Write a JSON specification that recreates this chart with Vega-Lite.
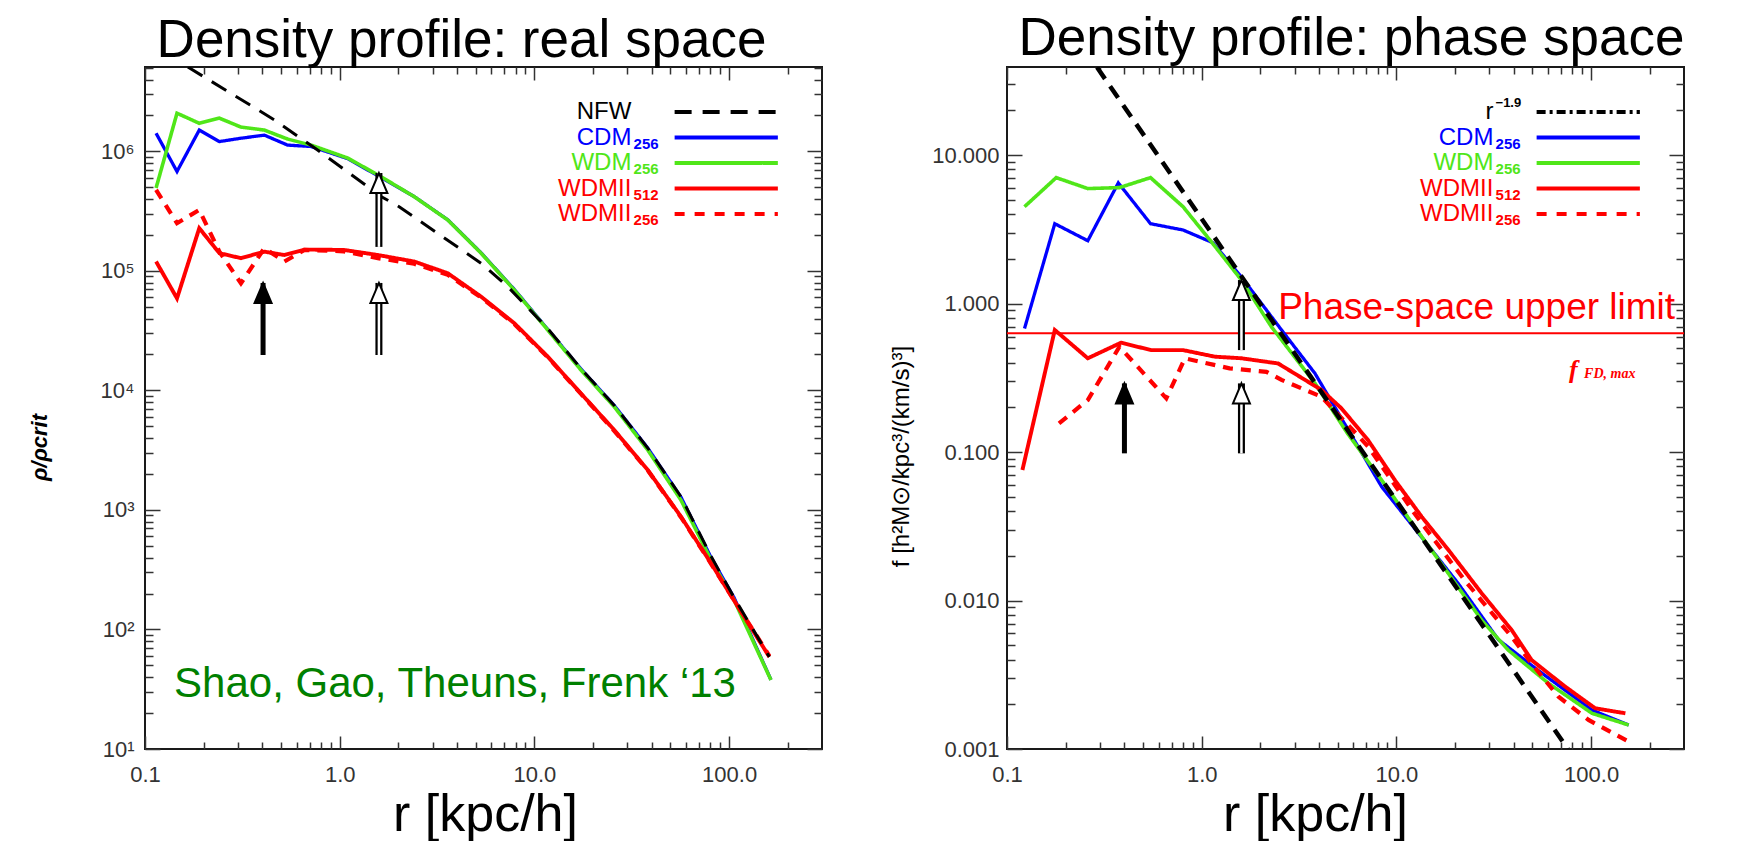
{
  "$schema": "https://vega.github.io/schema/vega-lite/v6.json",
  "background": "white",
  "padding": {"left": 27, "top": 12, "right": 5, "bottom": 0},
  "spacing": 185,
  "bounds": "flush",
  "config": {
    "font": "Liberation Sans",
    "view": {"stroke": "#1a1a1a", "strokeWidth": 2},
    "axis": {"grid": false, "domain": false, "tickColor": "#333333", "tickWidth": 1.5, "labelColor": "#333333", "labelFontSize": 22, "labelFont": "Liberation Sans", "titleFont": "Liberation Sans", "titleColor": "black", "titleFontWeight": "normal", "labelOverlap": false, "labelFlush": false, "labelBound": false}
  },
  "datasets": {
    "realCurves": [
      {"series":"CDM256","r":0.114,"v":1420000},{"series":"CDM256","r":0.146,"v":680000},{"series":"CDM256","r":0.19,"v":1510000},{"series":"CDM256","r":0.241,"v":1210000},{"series":"CDM256","r":0.311,"v":1290000},{"series":"CDM256","r":0.41,"v":1370000},{"series":"CDM256","r":0.54,"v":1130000},{"series":"CDM256","r":0.713,"v":1100000},{"series":"CDM256","r":1.1,"v":870000},{"series":"CDM256","r":1.63,"v":605000},{"series":"CDM256","r":2.41,"v":420000},{"series":"CDM256","r":3.59,"v":268000},{"series":"CDM256","r":5.32,"v":142000},{"series":"CDM256","r":7.89,"v":70000},{"series":"CDM256","r":11.7,"v":32500},{"series":"CDM256","r":17.3,"v":15200},{"series":"CDM256","r":25.7,"v":7500},{"series":"CDM256","r":38.2,"v":3300},{"series":"CDM256","r":56.6,"v":1280},{"series":"CDM256","r":80.8,"v":400},{"series":"CDM256","r":106,"v":185},{"series":"CDM256","r":164,"v":38},
      {"series":"WDM256","r":0.114,"v":495000},{"series":"WDM256","r":0.146,"v":2090000},{"series":"WDM256","r":0.19,"v":1720000},{"series":"WDM256","r":0.241,"v":1900000},{"series":"WDM256","r":0.311,"v":1600000},{"series":"WDM256","r":0.41,"v":1510000},{"series":"WDM256","r":0.54,"v":1270000},{"series":"WDM256","r":0.713,"v":1130000},{"series":"WDM256","r":1.1,"v":880000},{"series":"WDM256","r":1.63,"v":615000},{"series":"WDM256","r":2.41,"v":419000},{"series":"WDM256","r":3.59,"v":267000},{"series":"WDM256","r":5.32,"v":141000},{"series":"WDM256","r":7.89,"v":69300},{"series":"WDM256","r":11.7,"v":32100},{"series":"WDM256","r":17.3,"v":14900},{"series":"WDM256","r":25.7,"v":7310},{"series":"WDM256","r":38.2,"v":3180},{"series":"WDM256","r":56.6,"v":1210},{"series":"WDM256","r":80.8,"v":382},{"series":"WDM256","r":106,"v":177},{"series":"WDM256","r":164,"v":37.8},
      {"series":"WDMII512","r":0.114,"v":120000},{"series":"WDMII512","r":0.146,"v":59000},{"series":"WDMII512","r":0.19,"v":228000},{"series":"WDMII512","r":0.241,"v":141000},{"series":"WDMII512","r":0.311,"v":128000},{"series":"WDMII512","r":0.41,"v":145000},{"series":"WDMII512","r":0.52,"v":136000},{"series":"WDMII512","r":0.66,"v":151000},{"series":"WDMII512","r":1.05,"v":150000},{"series":"WDMII512","r":1.57,"v":136000},{"series":"WDMII512","r":2.41,"v":120000},{"series":"WDMII512","r":3.59,"v":95700},{"series":"WDMII512","r":5.32,"v":61000},{"series":"WDMII512","r":7.89,"v":36500},{"series":"WDMII512","r":11.7,"v":19200},{"series":"WDMII512","r":17.3,"v":9480},{"series":"WDMII512","r":25.7,"v":4670},{"series":"WDMII512","r":38.2,"v":2160},{"series":"WDMII512","r":56.6,"v":879},{"series":"WDMII512","r":80.8,"v":358},{"series":"WDMII512","r":106,"v":175},{"series":"WDMII512","r":161,"v":59},
      {"series":"WDMII256","r":0.114,"v":476000},{"series":"WDMII256","r":0.146,"v":251000},{"series":"WDMII256","r":0.19,"v":324000},{"series":"WDMII256","r":0.241,"v":145000},{"series":"WDMII256","r":0.311,"v":78900},{"series":"WDMII256","r":0.41,"v":155000},{"series":"WDMII256","r":0.52,"v":120000},{"series":"WDMII256","r":0.66,"v":150000},{"series":"WDMII256","r":1.05,"v":146000},{"series":"WDMII256","r":1.57,"v":128000},{"series":"WDMII256","r":2.41,"v":115000},{"series":"WDMII256","r":3.59,"v":93000},{"series":"WDMII256","r":5.32,"v":60000},{"series":"WDMII256","r":7.89,"v":36000},{"series":"WDMII256","r":11.7,"v":19000},{"series":"WDMII256","r":17.3,"v":9400},{"series":"WDMII256","r":25.7,"v":4600},{"series":"WDMII256","r":38.2,"v":2150},{"series":"WDMII256","r":56.6,"v":870},{"series":"WDMII256","r":80.8,"v":355},{"series":"WDMII256","r":106,"v":176},{"series":"WDMII256","r":161,"v":60},
      {"series":"NFW","r":0.166,"v":5090000},{"series":"NFW","r":0.461,"v":1840000},{"series":"NFW","r":0.77,"v":1030000},{"series":"NFW","r":1.63,"v":420000},{"series":"NFW","r":2.02,"v":345000},{"series":"NFW","r":5.32,"v":116000},{"series":"NFW","r":7.3,"v":74000},{"series":"NFW","r":11.7,"v":33000},{"series":"NFW","r":17.3,"v":15300},{"series":"NFW","r":25.7,"v":7500},{"series":"NFW","r":38.2,"v":3300},{"series":"NFW","r":56.6,"v":1290},{"series":"NFW","r":80.8,"v":410},{"series":"NFW","r":106,"v":185},{"series":"NFW","r":161,"v":59}
    ],
    "phaseCurves": [
      {"series":"CDM256","r":0.123,"v":0.679},{"series":"CDM256","r":0.176,"v":3.45},{"series":"CDM256","r":0.26,"v":2.65},{"series":"CDM256","r":0.373,"v":6.5},{"series":"CDM256","r":0.546,"v":3.45},{"series":"CDM256","r":0.802,"v":3.13},{"series":"CDM256","r":1.14,"v":2.57},{"series":"CDM256","r":1.6,"v":1.51},{"series":"CDM256","r":2.57,"v":0.664},{"series":"CDM256","r":3.82,"v":0.338},{"series":"CDM256","r":8.4,"v":0.0584},{"series":"CDM256","r":20.8,"v":0.013},{"series":"CDM256","r":33.4,"v":0.00545},{"series":"CDM256","r":53.4,"v":0.00339},{"series":"CDM256","r":101,"v":0.00183},{"series":"CDM256","r":156,"v":0.00145},
      {"series":"WDM256","r":0.123,"v":4.49},{"series":"WDM256","r":0.179,"v":7.05},{"series":"WDM256","r":0.26,"v":5.95},{"series":"WDM256","r":0.378,"v":6.04},{"series":"WDM256","r":0.546,"v":7.05},{"series":"WDM256","r":0.802,"v":4.49},{"series":"WDM256","r":1.12,"v":2.61},{"series":"WDM256","r":1.6,"v":1.44},{"series":"WDM256","r":2.28,"v":0.698},{"series":"WDM256","r":3.82,"v":0.29},{"series":"WDM256","r":5.6,"v":0.134},{"series":"WDM256","r":8.4,"v":0.0647},{"series":"WDM256","r":12.4,"v":0.0314},{"series":"WDM256","r":18.5,"v":0.0152},{"series":"WDM256","r":27.4,"v":0.00739},{"series":"WDM256","r":37.5,"v":0.00464},{"series":"WDM256","r":60.4,"v":0.00277},{"series":"WDM256","r":101,"v":0.00174},{"series":"WDM256","r":156,"v":0.00145},
      {"series":"WDMII512","r":0.12,"v":0.0757},{"series":"WDMII512","r":0.176,"v":0.664},{"series":"WDMII512","r":0.26,"v":0.428},{"series":"WDMII512","r":0.385,"v":0.545},{"series":"WDMII512","r":0.55,"v":0.486},{"series":"WDMII512","r":0.802,"v":0.486},{"series":"WDMII512","r":1.166,"v":0.439},{"series":"WDMII512","r":1.6,"v":0.428},{"series":"WDMII512","r":2.47,"v":0.395},{"series":"WDMII512","r":4.12,"v":0.262},{"series":"WDMII512","r":5.22,"v":0.197},{"series":"WDMII512","r":7.16,"v":0.12},{"series":"WDMII512","r":9.82,"v":0.0647},{"series":"WDMII512","r":13.5,"v":0.0366},{"series":"WDMII512","r":18.5,"v":0.0219},{"series":"WDMII512","r":27.4,"v":0.0112},{"series":"WDMII512","r":39.1,"v":0.00632},{"series":"WDMII512","r":49.5,"v":0.00397},{"series":"WDMII512","r":73.6,"v":0.00263},{"series":"WDMII512","r":105,"v":0.00188},{"series":"WDMII512","r":150,"v":0.00174},
      {"series":"WDMII256","r":0.185,"v":0.156},{"series":"WDMII256","r":0.26,"v":0.224},{"series":"WDMII256","r":0.378,"v":0.512},{"series":"WDMII256","r":0.658,"v":0.23},{"series":"WDMII256","r":0.82,"v":0.428},{"series":"WDMII256","r":1.39,"v":0.366},{"series":"WDMII256","r":2.15,"v":0.347},{"series":"WDMII256","r":2.57,"v":0.306},{"series":"WDMII256","r":4.12,"v":0.236},{"series":"WDMII256","r":7.16,"v":0.109},{"series":"WDMII256","r":12.4,"v":0.0385},{"series":"WDMII256","r":22.4,"v":0.0137},{"series":"WDMII256","r":39.1,"v":0.0057},{"series":"WDMII256","r":49.5,"v":0.00376},{"series":"WDMII256","r":68,"v":0.00225},{"series":"WDMII256","r":97,"v":0.00157},{"series":"WDMII256","r":162,"v":0.00109},
      {"series":"r19","r":0.29,"v":39},{"series":"r19","r":76,"v":0.001}
    ],
    "realArrows": [
      {"kind":"filled","r":0.404,"tail":19800,"tip":79400},
      {"kind":"open","r":1.59,"tail":19800,"tip":79400},
      {"kind":"open","r":1.59,"tail":159000,"tip":660000}
    ],
    "phaseArrows": [
      {"kind":"filled","r":0.401,"tail":0.098,"tip":0.29},
      {"kind":"open","r":1.6,"tail":0.098,"tip":0.29},
      {"kind":"open","r":1.6,"tail":0.486,"tip":1.44}
    ],
    "realLegend": [
      {"series":"NFW","label":"NFW","sub":"","rank":0},
      {"series":"CDM256","label":"CDM","sub":"256","rank":1},
      {"series":"WDM256","label":"WDM","sub":"256","rank":2},
      {"series":"WDMII512","label":"WDMII","sub":"512","rank":3},
      {"series":"WDMII256","label":"WDMII","sub":"256","rank":4}
    ],
    "phaseLegend": [
      {"series":"r19","label":"r","sub":"","sup":"−1.9","rank":0},
      {"series":"CDM256","label":"CDM","sub":"256","sup":"","rank":1},
      {"series":"WDM256","label":"WDM","sub":"256","sup":"","rank":2},
      {"series":"WDMII512","label":"WDMII","sub":"512","sup":"","rank":3},
      {"series":"WDMII256","label":"WDMII","sub":"256","sup":"","rank":4}
    ]
  },
  "hconcat": [
    {
      "width": 677,
      "height": 682,
      "title": {"text": "Density profile: real space", "fontSize": 53, "fontWeight": "normal", "font": "Liberation Sans", "color": "black", "anchor": "middle", "frame": "group", "baseline": "alphabetic", "offset": -53, "dx": -22},
      "resolve": {"scale": {"y": "independent", "strokeDash": "independent"}},
      "layer": [
        {
          "layer": [
            {
              "data": {"name": "realCurves"},
              "mark": {"type": "line", "clip": true},
              "encoding": {
                "x": {"field": "r", "type": "quantitative", "scale": {"type": "log", "domain": [0.1, 300], "nice": false},
                  "axis": {"orient": "bottom", "values": [0.1,0.2,0.3,0.4,0.5,0.6,0.7,0.8,0.9,1,2,3,4,5,6,7,8,9,10,20,30,40,50,60,70,80,90,100,200],
                    "labelExpr": "datum.value == 0.1 ? '0.1' : datum.value == 1 ? '1.0' : datum.value == 10 ? '10.0' : datum.value == 100 ? '100.0' : ''",
                    "tickSize": {"condition": {"test": "abs(log(datum.value)/LN10 - round(log(datum.value)/LN10)) < 1e-6", "value": -13}, "value": -7},
                    "labelPadding": 28, "title": "r [kpc/h]", "titleFontSize": 52, "titleBaseline": "alphabetic", "titleY": 81, "titleX": 340}},
                "y": {"field": "v", "type": "quantitative", "scale": {"type": "log", "domain": [10, 5090000], "nice": false},
                  "axis": {"orient": "left", "values": [10,20,30,40,50,60,70,80,90,100,200,300,400,500,600,700,800,900,1000,2000,3000,4000,5000,6000,7000,8000,9000,10000,20000,30000,40000,50000,60000,70000,80000,90000,100000,200000,300000,400000,500000,600000,700000,800000,900000,1000000,2000000,3000000,4000000,5000000],
                    "labelExpr": "abs(log(datum.value)/LN10 - round(log(datum.value)/LN10)) < 1e-6 ? '10' + ['⁰','¹','²','³','⁴','⁵','⁶','⁷'][round(log(datum.value)/LN10)] : ''",
                    "tickSize": {"condition": {"test": "abs(log(datum.value)/LN10 - round(log(datum.value)/LN10)) < 1e-6", "value": -15}, "value": -8},
                    "labelPadding": 26, "title": "ρ/ρcrit", "titleFontSize": 22, "titleFontStyle": "italic", "titleFontWeight": "bold", "titleX": -94, "titleY": 380, "titleAngle": -90, "titleBaseline": "bottom", "titleAlign": "center"}},
                "color": {"field": "series", "type": "nominal", "scale": {"domain": ["NFW","CDM256","WDM256","WDMII512","WDMII256"], "range": ["#000000","#0000ff","#50e619","#ff0000","#ff0000"]}, "legend": null},
                "strokeDash": {"field": "series", "type": "nominal", "scale": {"domain": ["NFW","CDM256","WDM256","WDMII512","WDMII256"], "range": [[17,11],[1,0],[1,0],[1,0],[10,8]]}, "legend": null},
                "strokeWidth": {"field": "series", "type": "nominal", "scale": {"domain": ["NFW","CDM256","WDM256","WDMII512","WDMII256"], "range": [3,4.5,4.5,4.5,4.5]}, "legend": null}
              }
            },
            {
              "data": {"name": "realArrows"},
              "mark": {"type": "rule", "color": "black"},
              "encoding": {
                "x": {"field": "r", "type": "quantitative",
                  "axis": {"orient": "top", "labels": false, "title": null, "values": [0.1,0.2,0.3,0.4,0.5,0.6,0.7,0.8,0.9,1,2,3,4,5,6,7,8,9,10,20,30,40,50,60,70,80,90,100,200],
                    "tickSize": {"condition": {"test": "abs(log(datum.value)/LN10 - round(log(datum.value)/LN10)) < 1e-6", "value": -13}, "value": -7}}},
                "y": {"field": "tail", "type": "quantitative",
                  "axis": {"orient": "right", "labels": false, "title": null, "values": [10,20,30,40,50,60,70,80,90,100,200,300,400,500,600,700,800,900,1000,2000,3000,4000,5000,6000,7000,8000,9000,10000,20000,30000,40000,50000,60000,70000,80000,90000,100000,200000,300000,400000,500000,600000,700000,800000,900000,1000000,2000000,3000000,4000000,5000000],
                    "tickSize": {"condition": {"test": "abs(log(datum.value)/LN10 - round(log(datum.value)/LN10)) < 1e-6", "value": -15}, "value": -8}}},
                "y2": {"field": "tip"},
                "strokeWidth": {"condition": {"test": "datum.kind === 'open'", "value": 7}, "value": 5}
              }
            },
            {
              "data": {"name": "realArrows"},
              "transform": [{"filter": "datum.kind === 'open'"}],
              "mark": {"type": "rule", "color": "white", "strokeWidth": 2.5},
              "encoding": {
                "x": {"field": "r", "type": "quantitative", "axis": null},
                "y": {"field": "tail", "type": "quantitative", "axis": null},
                "y2": {"field": "tip"}
              }
            },
            {
              "data": {"name": "realArrows"},
              "mark": {"type": "point", "shape": "M0,0L0.85,2L-0.85,2Z", "size": 400, "filled": true, "stroke": "black", "strokeWidth": 2, "opacity": 1},
              "encoding": {
                "x": {"field": "r", "type": "quantitative", "axis": null},
                "y": {"field": "tip", "type": "quantitative", "axis": null},
                "fill": {"condition": {"test": "datum.kind === 'open'", "value": "white"}, "value": "black"}
              }
            },
            {
              "data": {"values": [{"note": "Shao, Gao, Theuns, Frenk ‘13"}]},
              "mark": {"type": "text", "align": "left", "baseline": "alphabetic", "fontSize": 42, "color": "#008000"},
              "encoding": {
                "x": {"datum": 0.141, "axis": null},
                "y": {"datum": 27.2, "axis": null},
                "text": {"field": "note"}
              }
            }
          ]
        },
        {
          "data": {"name": "realLegend"},
          "layer": [
            {
              "mark": {"type": "rule", "strokeWidth": 4},
              "encoding": {
                "x": {"datum": 52.5, "axis": null},
                "x2": {"datum": 178},
                "y": {"field": "rank", "type": "quantitative", "scale": {"domain": [-1.765, 24.98], "reverse": true, "nice": false, "zero": false}, "axis": null},
                "color": {"field": "series", "type": "nominal", "legend": null},
                "strokeDash": {"field": "series", "type": "nominal", "scale": {"domain": ["NFW","CDM256","WDM256","WDMII512","WDMII256"], "range": [[17,11],[1,0],[1,0],[1,0],[10,10]]}, "legend": null}
              }
            },
            {
              "mark": {"type": "text", "align": "right", "baseline": "alphabetic", "dy": 7, "fontSize": 24},
              "encoding": {
                "x": {"datum": 31.5, "axis": null},
                "y": {"field": "rank", "type": "quantitative", "axis": null},
                "text": {"field": "label"},
                "color": {"field": "series", "type": "nominal", "legend": null}
              }
            },
            {
              "mark": {"type": "text", "align": "left", "baseline": "alphabetic", "dy": 11, "fontSize": 15, "fontWeight": "bold"},
              "encoding": {
                "x": {"datum": 32.3, "axis": null},
                "y": {"field": "rank", "type": "quantitative", "axis": null},
                "text": {"field": "sub"},
                "color": {"field": "series", "type": "nominal", "legend": null}
              }
            }
          ]
        }
      ]
    },
    {
      "width": 677,
      "height": 682,
      "title": {"text": "Density profile: phase space", "fontSize": 53, "fontWeight": "normal", "font": "Liberation Sans", "color": "black", "anchor": "middle", "frame": "group", "baseline": "alphabetic", "offset": -42, "dx": 6},
      "resolve": {"scale": {"y": "independent", "strokeDash": "independent"}},
      "layer": [
        {
          "layer": [
            {
              "data": {"values": [{}]},
              "mark": {"type": "rule", "color": "#ff0000", "strokeWidth": 2},
              "encoding": {"y": {"datum": 0.63, "type": "quantitative", "scale": {"type": "log", "domain": [0.001, 39.2], "nice": false}, "axis": null}}
            },
            {
              "data": {"name": "phaseCurves"},
              "mark": {"type": "line", "clip": true},
              "encoding": {
                "x": {"field": "r", "type": "quantitative", "scale": {"type": "log", "domain": [0.1, 300], "nice": false},
                  "axis": {"orient": "bottom", "values": [0.1,0.2,0.3,0.4,0.5,0.6,0.7,0.8,0.9,1,2,3,4,5,6,7,8,9,10,20,30,40,50,60,70,80,90,100,200],
                    "labelExpr": "datum.value == 0.1 ? '0.1' : datum.value == 1 ? '1.0' : datum.value == 10 ? '10.0' : datum.value == 100 ? '100.0' : ''",
                    "tickSize": {"condition": {"test": "abs(log(datum.value)/LN10 - round(log(datum.value)/LN10)) < 1e-6", "value": -13}, "value": -7},
                    "labelPadding": 28, "title": "r [kpc/h]", "titleFontSize": 52, "titleBaseline": "alphabetic", "titleY": 81, "titleX": 308}},
                "y": {"field": "v", "type": "quantitative", "scale": {"type": "log", "domain": [0.001, 39.2], "nice": false},
                  "axis": {"orient": "left", "values": [0.001,0.002,0.003,0.004,0.005,0.006,0.007,0.008,0.009,0.01,0.02,0.03,0.04,0.05,0.06,0.07,0.08,0.09,0.1,0.2,0.3,0.4,0.5,0.6,0.7,0.8,0.9,1,2,3,4,5,6,7,8,9,10,20,30],
                    "labelExpr": "abs(log(datum.value)/LN10 - round(log(datum.value)/LN10)) < 1e-6 ? format(datum.value, '.3f') : ''",
                    "tickSize": {"condition": {"test": "abs(log(datum.value)/LN10 - round(log(datum.value)/LN10)) < 1e-6", "value": -15}, "value": -8},
                    "labelPadding": 23, "title": "f [h²M⊙/kpc³/(km/s)³]", "titleFontSize": 24, "titleX": -94, "titleY": 389, "titleAngle": -90, "titleBaseline": "bottom", "titleAlign": "center"}},
                "color": {"field": "series", "type": "nominal", "scale": {"domain": ["r19","CDM256","WDM256","WDMII512","WDMII256"], "range": ["#000000","#0000ff","#50e619","#ff0000","#ff0000"]}, "legend": null},
                "strokeDash": {"field": "series", "type": "nominal", "scale": {"domain": ["r19","CDM256","WDM256","WDMII512","WDMII256"], "range": [[14,9],[1,0],[1,0],[1,0],[10,8]]}, "legend": null},
                "strokeWidth": {"field": "series", "type": "nominal", "scale": {"domain": ["r19","CDM256","WDM256","WDMII512","WDMII256"], "range": [3,4.5,4.5,4.5,4.5]}, "legend": null}
              }
            },
            {
              "data": {"name": "phaseArrows"},
              "mark": {"type": "rule", "color": "black"},
              "encoding": {
                "x": {"field": "r", "type": "quantitative",
                  "axis": {"orient": "top", "labels": false, "title": null, "values": [0.1,0.2,0.3,0.4,0.5,0.6,0.7,0.8,0.9,1,2,3,4,5,6,7,8,9,10,20,30,40,50,60,70,80,90,100,200],
                    "tickSize": {"condition": {"test": "abs(log(datum.value)/LN10 - round(log(datum.value)/LN10)) < 1e-6", "value": -13}, "value": -7}}},
                "y": {"field": "tail", "type": "quantitative",
                  "axis": {"orient": "right", "labels": false, "title": null, "values": [0.001,0.002,0.003,0.004,0.005,0.006,0.007,0.008,0.009,0.01,0.02,0.03,0.04,0.05,0.06,0.07,0.08,0.09,0.1,0.2,0.3,0.4,0.5,0.6,0.7,0.8,0.9,1,2,3,4,5,6,7,8,9,10,20,30],
                    "tickSize": {"condition": {"test": "abs(log(datum.value)/LN10 - round(log(datum.value)/LN10)) < 1e-6", "value": -15}, "value": -8}}},
                "y2": {"field": "tip"},
                "strokeWidth": {"condition": {"test": "datum.kind === 'open'", "value": 7}, "value": 5}
              }
            },
            {
              "data": {"name": "phaseArrows"},
              "transform": [{"filter": "datum.kind === 'open'"}],
              "mark": {"type": "rule", "color": "white", "strokeWidth": 2.5},
              "encoding": {
                "x": {"field": "r", "type": "quantitative", "axis": null},
                "y": {"field": "tail", "type": "quantitative", "axis": null},
                "y2": {"field": "tip"}
              }
            },
            {
              "data": {"name": "phaseArrows"},
              "mark": {"type": "point", "shape": "M0,0L0.85,2L-0.85,2Z", "size": 400, "filled": true, "stroke": "black", "strokeWidth": 2, "opacity": 1},
              "encoding": {
                "x": {"field": "r", "type": "quantitative", "axis": null},
                "y": {"field": "tip", "type": "quantitative", "axis": null},
                "fill": {"condition": {"test": "datum.kind === 'open'", "value": "white"}, "value": "black"}
              }
            },
            {
              "data": {"values": [{"note": "Phase-space upper limit"}]},
              "mark": {"type": "text", "align": "right", "baseline": "alphabetic", "dy": -14, "fontSize": 37, "color": "#ff0000"},
              "encoding": {
                "x": {"datum": 270, "axis": null},
                "y": {"datum": 0.63, "axis": null},
                "text": {"field": "note"}
              }
            },
            {
              "data": {"values": [{"note": "f"}]},
              "mark": {"type": "text", "align": "left", "baseline": "alphabetic", "fontSize": 26, "font": "Liberation Serif", "fontStyle": "italic", "fontWeight": "bold", "color": "#ff0000"},
              "encoding": {
                "x": {"datum": 76.9, "axis": null},
                "y": {"datum": 0.315, "axis": null},
                "text": {"field": "note"}
              }
            },
            {
              "data": {"values": [{"note": "FD, max"}]},
              "mark": {"type": "text", "align": "left", "baseline": "alphabetic", "fontSize": 14, "font": "Liberation Serif", "fontStyle": "italic", "fontWeight": "bold", "color": "#ff0000"},
              "encoding": {
                "x": {"datum": 92, "axis": null},
                "y": {"datum": 0.315, "axis": null},
                "text": {"field": "note"}
              }
            }
          ]
        },
        {
          "data": {"name": "phaseLegend"},
          "layer": [
            {
              "mark": {"type": "rule", "strokeWidth": 4},
              "encoding": {
                "x": {"datum": 52.5, "axis": null},
                "x2": {"datum": 178},
                "y": {"field": "rank", "type": "quantitative", "scale": {"domain": [-1.765, 24.98], "reverse": true, "nice": false, "zero": false}, "axis": null},
                "color": {"field": "series", "type": "nominal", "legend": null},
                "strokeDash": {"field": "series", "type": "nominal", "scale": {"domain": ["r19","CDM256","WDM256","WDMII512","WDMII256"], "range": [[9,4,3,4],[1,0],[1,0],[1,0],[10,10]]}, "legend": null}
              }
            },
            {
              "mark": {"type": "text", "align": "right", "baseline": "alphabetic", "dy": 7, "fontSize": 24},
              "encoding": {
                "x": {"datum": 31.5, "axis": null},
                "y": {"field": "rank", "type": "quantitative", "axis": null},
                "text": {"field": "label"},
                "color": {"field": "series", "type": "nominal", "legend": null}
              }
            },
            {
              "mark": {"type": "text", "align": "left", "baseline": "alphabetic", "dy": 11, "fontSize": 15, "fontWeight": "bold"},
              "encoding": {
                "x": {"datum": 32.3, "axis": null},
                "y": {"field": "rank", "type": "quantitative", "axis": null},
                "text": {"field": "sub"},
                "color": {"field": "series", "type": "nominal", "legend": null}
              }
            },
            {
              "mark": {"type": "text", "align": "left", "baseline": "alphabetic", "dy": -5, "fontSize": 13, "fontWeight": "bold"},
              "encoding": {
                "x": {"datum": 32.3, "axis": null},
                "y": {"field": "rank", "type": "quantitative", "axis": null},
                "text": {"field": "sup"},
                "color": {"field": "series", "type": "nominal", "legend": null}
              }
            }
          ]
        }
      ]
    }
  ]
}
